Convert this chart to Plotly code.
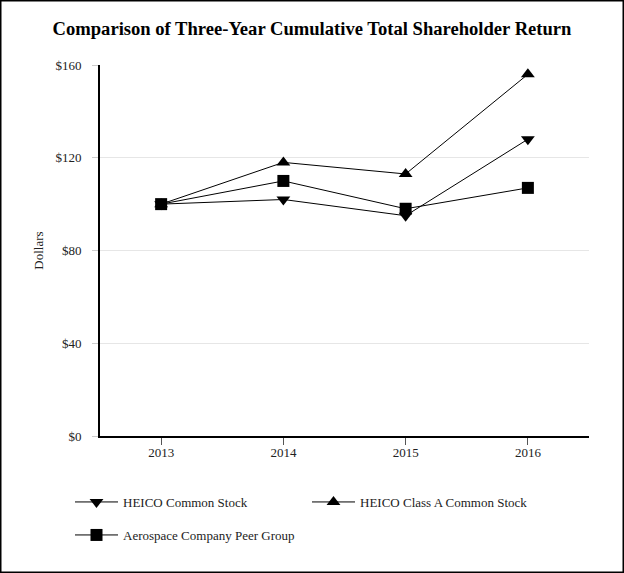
import plotly.graph_objects as go

years = ["2013", "2014", "2015", "2016"]
heico_common = [100, 102, 95, 128]
heico_class_a = [100, 118, 113, 156]
peer_group = [100, 110, 98, 107]
y_ticks = [0, 40, 80, 120, 160]
y_tick_labels = ["$0", "$40", "$80", "$120", "$160"]

W, H = 624, 573
L, R, T, B = 100, 35, 65, 137
pw, ph = W - L - R, H - T - B

def px_x(p):
    return (p - L) / pw

def px_y(p):
    return (H - B - p) / ph

font_family = "Liberation Serif"

fig = go.Figure()
fig.add_trace(go.Scatter(
    x=years, y=heico_common, name="HEICO Common Stock", mode="lines+markers",
    line=dict(color="black", width=1),
    marker=dict(symbol="triangle-down", size=12, color="black"),
    legend="legend"))
fig.add_trace(go.Scatter(
    x=years, y=heico_class_a, name="HEICO Class A Common Stock", mode="lines+markers",
    line=dict(color="black", width=1),
    marker=dict(symbol="triangle-up", size=12, color="black"),
    legend="legend"))
fig.add_trace(go.Scatter(
    x=years, y=peer_group, name="Aerospace Company Peer Group", mode="lines+markers",
    line=dict(color="black", width=1),
    marker=dict(symbol="square", size=12, color="black"),
    legend="legend2"))

fig.update_layout(
    width=W, height=H,
    margin=dict(l=L, r=R, t=T, b=B),
    paper_bgcolor="white", plot_bgcolor="white",
    font=dict(family=font_family, size=13, color="#222222"),
    title=dict(text="<b>Comparison of Three-Year Cumulative Total Shareholder Return</b>",
               x=0.5, xref="container", xanchor="center", y=1 - 28 / H, yref="container",
               yanchor="middle",
               font=dict(family=font_family, size=18.6, color="black")),
    xaxis=dict(type="category", range=[-0.5, 3.5], showgrid=False,
               showline=True, linecolor="black", linewidth=2,
               ticks="outside", ticklen=7, tickcolor="#555555",
               ticklabelstandoff=-4,
               tickfont=dict(family=font_family, size=13), zeroline=False,
               fixedrange=True),
    yaxis=dict(range=[0, 160], tickvals=y_ticks, ticktext=y_tick_labels,
               showgrid=True, gridcolor="#e6e6e6", gridwidth=1,
               showline=True, linecolor="black", linewidth=2,
               ticks="outside", ticklen=6, tickcolor="#cccccc",
               ticklabelstandoff=8,
               tickfont=dict(family=font_family, size=13), zeroline=False,
               title=dict(text="Dollars", font=dict(family=font_family, size=13), standoff=9),
               fixedrange=True),
    legend=dict(orientation="h", x=px_x(70), xanchor="left", y=px_y(487), yanchor="top",
                entrywidth=179, entrywidthmode="pixels", itemwidth=43,
                font=dict(family=font_family, size=13), bgcolor="rgba(0,0,0,0)"),
    legend2=dict(orientation="h", x=px_x(70), xanchor="left", y=px_y(520), yanchor="top",
                 itemwidth=43,
                 font=dict(family=font_family, size=13), bgcolor="rgba(0,0,0,0)"),
    shapes=[dict(type="rect", xref="paper", yref="paper",
                 x0=px_x(0.75), x1=px_x(W - 0.75), y0=px_y(H - 0.75), y1=px_y(0.75),
                 line=dict(color="black", width=1.5), fillcolor="rgba(0,0,0,0)",
                 layer="above")],
    showlegend=True,
)

fig.write_html("out.html", config={"displayModeBar": False},
               post_script="document.body.style.margin='0';document.body.style.overflow='hidden';")
